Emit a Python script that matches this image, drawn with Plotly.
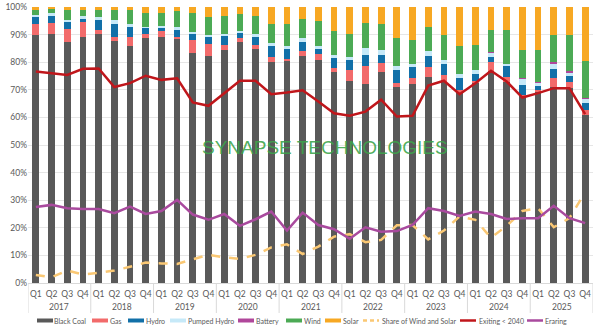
import plotly.graph_objects as go

years = ["2017", "2018", "2019", "2020", "2021", "2022", "2023", "2024", "2025"]
quarters = ["Q1", "Q2", "Q3", "Q4"]

black_coal = [89.7, 90.3, 87.5, 89.0, 90.2, 87.8, 85.7, 88.7, 89.0, 88.4, 83.3, 82.3,
              84.5, 87.2, 84.9, 80.0, 80.6, 82.1, 80.8, 76.3, 73.2, 72.2, 76.3, 71.0,
              72.2, 74.8, 73.0, 69.0, 72.7, 76.9, 72.7, 67.8, 69.4, 70.9, 70.6, 60.9]
gas = [4.2, 3.9, 4.6, 5.4, 1.4, 1.5, 3.3, 1.7, 2.3, 0.9, 4.6, 4.3,
       1.8, 1.7, 1.4, 1.8, 0.6, 1.8, 2.2, 1.6, 4.1, 6.3, 3.4, 1.5,
       2.1, 3.4, 2.3, 1.0, 0.5, 3.0, 1.9, 0.4, 0.4, 3.4, 2.4, 1.8]
hydro = [2.4, 2.6, 2.6, 1.6, 3.8, 4.6, 3.7, 2.0, 1.1, 2.5, 2.2, 2.6,
         3.2, 1.7, 2.7, 3.9, 3.8, 3.5, 1.7, 3.5, 3.4, 4.2, 3.0, 4.6,
         3.9, 4.2, 4.0, 4.2, 2.7, 1.9, 4.1, 3.6, 1.7, 3.4, 2.1, 2.4]
pumped_hydro = [0.8, 1.0, 0.7, 0.6, 0.8, 1.5, 1.1, 0.3, 0.6, 0.9, 0.9, 0.8,
                0.8, 0.6, 1.1, 1.1, 0.7, 1.3, 1.3, 1.2, 1.2, 2.4, 1.8, 1.7,
                1.3, 1.8, 1.6, 1.6, 1.2, 1.8, 0.7, 2.2, 1.2, 1.8, 1.3, 1.6]
battery = [0, 0, 0, 0, 0, 0, 0, 0, 0, 0, 0, 0,
           0, 0, 0, 0, 0, 0, 0, 0, 0, 0, 0, 0,
           0, 0, 0, 0, 0, 0.1, 0.1, 0.2, 0.2, 0.4, 0.5, 0.5]
wind = [1.9, 1.4, 3.6, 2.2, 2.7, 3.5, 5.0, 5.1, 5.0, 5.7, 7.0, 6.4,
        6.5, 6.4, 6.8, 7.1, 8.1, 7.1, 9.1, 8.6, 8.3, 9.1, 9.3, 9.8,
        8.6, 8.7, 8.8, 9.9, 9.1, 8.1, 12.0, 10.3, 11.6, 10.0, 12.8, 13.3]
solar = [1.0, 0.8, 1.0, 1.2, 1.1, 1.1, 1.2, 2.2, 2.0, 1.6, 2.0, 3.6,
         3.2, 2.4, 3.1, 6.1, 6.2, 4.2, 4.8, 8.8, 9.8, 5.8, 6.2, 11.5,
         12.0, 7.0, 10.3, 14.3, 13.8, 8.2, 8.6, 15.7, 15.7, 10.1, 10.3, 19.5]
share_wind_solar = [2.9, 2.1, 4.5, 3.1, 3.7, 4.5, 5.9, 7.4, 7.1, 6.9, 8.6, 10.2,
                    9.3, 8.7, 10.2, 12.9, 14.0, 10.5, 13.2, 16.8, 17.7, 14.8, 15.6, 20.9,
                    21.0, 15.8, 19.0, 24.1, 22.9, 16.4, 20.7, 26.1, 27.1, 20.2, 23.5, 32.9]
exiting_2040 = [76.6, 76.0, 75.4, 77.6, 77.7, 71.0, 72.4, 75.1, 73.6, 74.2, 65.4, 64.2,
                68.8, 73.3, 73.3, 68.4, 69.0, 69.8, 65.8, 61.5, 60.6, 62.1, 66.4, 60.3,
                60.6, 71.5, 73.3, 68.4, 72.4, 76.9, 73.0, 67.2, 68.8, 70.6, 70.6, 61.2]
eraring = [27.5, 28.3, 27.1, 26.8, 26.8, 25.3, 27.7, 25.0, 26.1, 30.1, 24.8, 22.9,
           25.0, 20.7, 23.1, 25.9, 19.0, 25.5, 21.0, 19.5, 16.0, 20.2, 18.6, 18.8,
           21.0, 27.1, 26.1, 24.3, 25.9, 25.0, 23.2, 23.5, 23.5, 28.0, 23.5, 21.7]

x = [f"{y} {q}" for y in years for q in quarters]
q_text = [q for y in years for q in quarters]

FONT = "Lato, Liberation Sans, Arial, sans-serif"
GREY = "#595959"
W, H = 600, 331
ML, MR, MT, MB = 28, 7, 7, 48
PW, PH = W - ML - MR, H - MT - MB

def py(pixel_y):
    return (MT + PH - pixel_y) / PH

fig = go.Figure()
stack = [
    ("Black Coal", black_coal, "#595959"),
    ("Gas", gas, "#F26B6B"),
    ("Hydro", hydro, "#1270A8"),
    ("Pumped Hydro", pumped_hydro, "#C6E9F8"),
    ("Battery", battery, "#B0479B"),
    ("Wind", wind, "#4CAA55"),
    ("Solar", solar, "#F7A823"),
]
for name, vals, col in stack:
    fig.add_trace(go.Bar(x=x, y=[v / 100 for v in vals], name=name, showlegend=False,
                         marker=dict(color=col, line=dict(width=0))))

lines = [
    ("Share of Wind and Solar", share_wind_solar, "#FAC874", "dash"),
    ("Exiting < 2040", exiting_2040, "#C0161B", "solid"),
    ("Eraring", eraring, "#A94A9E", "solid"),
]
for name, vals, col, dash in lines:
    fig.add_trace(go.Scatter(x=x, y=[v / 100 for v in vals], name=name, showlegend=False,
                             mode="lines", line=dict(color=col, width=2.5, dash=dash)))

# year group labels and dividers (category-index coordinates)
nq = len(quarters)
for k, yr in enumerate(years):
    fig.add_annotation(text=yr, xref="x", yref="paper", x=k * nq + (nq - 1) / 2, y=py(306.5),
                       showarrow=False, yanchor="middle",
                       font=dict(family=FONT, size=8.5, color=GREY))
for k in range(len(years) + 1):
    fig.add_shape(type="line", xref="x", yref="paper", x0=k * nq - 0.5, x1=k * nq - 0.5,
                  y0=0, y1=py(313), line=dict(color="#D9D9D9", width=1))

# custom one-row legend (swatch start px, text start px)
legend_pos = [(37, 53), (92, 109), (128, 145), (170, 187), (238, 255), (286, 303),
              (325, 342), (363, 381), (460, 478), (527, 544)]
entries = [(n, c, "bar", None) for n, _, c in stack] + [(n, c, "line", d) for n, _, c, d in lines]
ly = py(320.5)
for (name, col, kind, dash), (sx, tx) in zip(entries, legend_pos):
    x0 = (sx - ML) / PW
    x1 = (sx + 16 - ML) / PW
    if kind == "bar":
        fig.add_shape(type="rect", xref="paper", yref="paper", x0=x0, x1=x1,
                      y0=ly - 2 / PH, y1=ly + 2 / PH, fillcolor=col, line=dict(width=0))
    elif dash == "dash":
        fig.add_shape(type="line", xref="paper", yref="paper", x0=x0, x1=x1, y0=ly, y1=ly,
                      line=dict(color=col, width=2.5, dash="4px,3px"))
    else:
        fig.add_shape(type="line", xref="paper", yref="paper", x0=x0, x1=x1, y0=ly, y1=ly,
                      line=dict(color=col, width=2.5))
    fig.add_annotation(text=name, xref="paper", yref="paper", x=(tx - ML) / PW, y=ly,
                       xanchor="left", yanchor="middle", showarrow=False, borderpad=0,
                       font=dict(family=FONT, size=7, color=GREY))

fig.add_annotation(text="SYNAPSE TECHNOLOGIES", xref="paper", yref="paper",
                   x=(325 - ML) / PW, y=py(147.5), showarrow=False,
                   font=dict(family="Liberation Sans", size=19, color="rgba(60,165,75,0.9)"))

fig.update_layout(
    width=W, height=H,
    margin=dict(l=ML, r=MR, t=MT, b=MB, autoexpand=False),
    barmode="stack", bargap=0.57,
    plot_bgcolor="white", paper_bgcolor="white",
    font=dict(family=FONT, size=8.5, color=GREY),
    showlegend=False,
    yaxis=dict(range=[0, 1.0], tickformat=".0%", dtick=0.1, showgrid=True,
               gridcolor="#E6E6E6", gridwidth=1, zeroline=False,
               tickfont=dict(size=8.5, color=GREY), ticks="", ticklen=0),
    xaxis=dict(type="category", range=[-0.5, len(x) - 0.5], showgrid=False,
               showline=True, linecolor="#D9D9D9",
               tickmode="array", tickvals=x, ticktext=q_text,
               tickfont=dict(size=8.5, color=GREY), ticks="", tickangle=0, ticklabelstandoff=3),
)

fig.write_html("out.html")
